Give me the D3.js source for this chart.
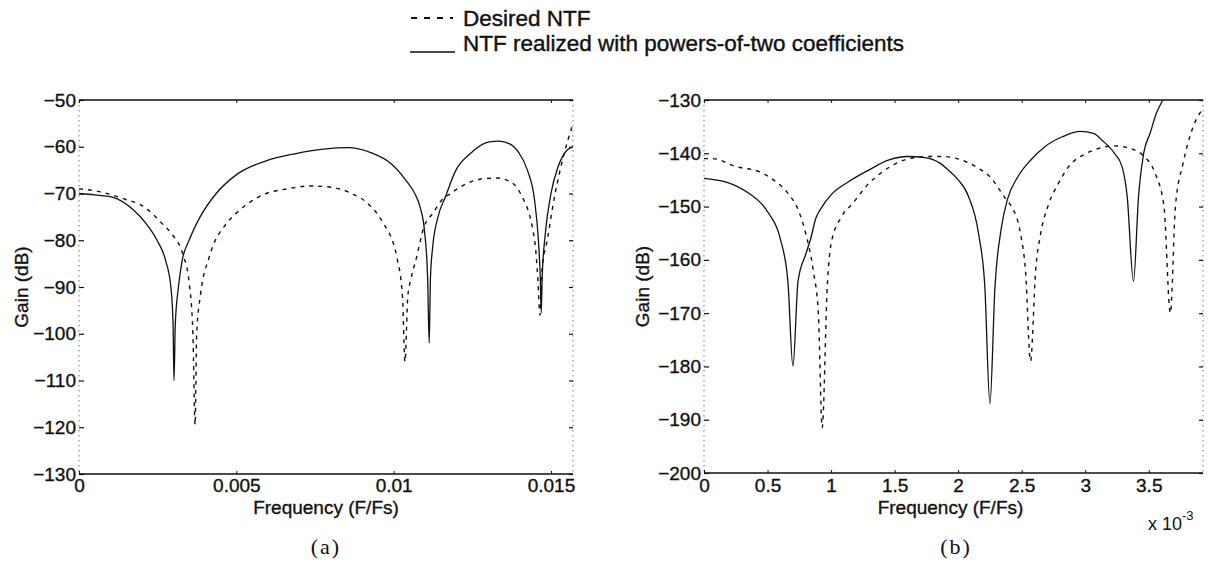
<!DOCTYPE html>
<html><head><meta charset="utf-8">
<script src="https://cdn.jsdelivr.net/npm/d3@7"></script>
<style>body{margin:0;background:#fff}svg{display:block}</style>
</head><body>
<svg id="c" width="1208" height="583"></svg>
<script>
// ---------- data ----------
const legendLabels = ["Desired NTF", "NTF realized with powers-of-two coefficients"];
const panelLabels = ["(a)", "(b)"];
const xLabel = "Frequency (F/Fs)";
const yLabel = "Gain (dB)";

const aXTicks = [0, 0.005, 0.01, 0.015];
const aYTicks = [-130, -120, -110, -100, -90, -80, -70, -60, -50];
const aXMax = 0.0157;
const bXTicks = [0, 0.0005, 0.001, 0.0015, 0.002, 0.0025, 0.003, 0.0035];
const bYTicks = [-200, -190, -180, -170, -160, -150, -140, -130];
const bXMax = 0.003927;

// panel (a) realized (solid)
const aSolidF = [0,0.0005,0.00106,0.00174,0.00214,0.00248,0.00276,0.00292,0.00299,0.00302,0.00306,0.00316,0.00328,0.0035,0.00385,0.00436,0.00504,0.00595,0.00686,0.00777,0.00857,0.00925,0.00993,0.01039,0.01067,0.01084,0.01098,0.01108,0.01113,0.01117,0.01124,0.01141,0.01164,0.01198,0.01243,0.013,0.01334,0.01369,0.01397,0.01425,0.01448,0.0146,0.01466,0.01469,0.01472,0.01482,0.015,0.01522,0.0155,0.0157];
const aSolidG = [-70,-70.3,-70.8,-73.6,-76.5,-80,-84.5,-90,-98,-110,-98,-90,-84.3,-80,-75,-70,-65.8,-63,-61.5,-60.5,-60.2,-61.2,-63.7,-67.2,-70,-72.9,-78,-88,-102,-88,-81.5,-75,-70.8,-65,-61.5,-59,-58.8,-59.4,-61.2,-65,-71.5,-80,-88,-95.5,-88,-78.6,-70,-64.4,-60.8,-60];
// panel (a) desired (dashed)
const aDesF = [0,0.00072,0.0014,0.00208,0.00265,0.00294,0.0033,0.0035,0.00362,0.00369,0.00374,0.00386,0.00413,0.0047,0.005,0.0053,0.00595,0.00663,0.00731,0.00777,0.00857,0.00925,0.00965,0.0101,0.01028,0.01036,0.01045,0.01056,0.01073,0.01096,0.01124,0.01152,0.01181,0.0122,0.01278,0.01329,0.01374,0.01403,0.01448,0.01458,0.01465,0.01472,0.01488,0.01511,0.01539,0.0157];
const aDesG = [-69,-69.7,-71.1,-72.9,-76.5,-78.6,-83,-89,-100,-119.5,-100,-91.7,-83.8,-76.3,-74.2,-72.5,-70,-69,-68.4,-68.5,-69.7,-72.6,-76.1,-83.6,-92,-106,-92,-88,-83.6,-77.2,-74.3,-71.5,-70,-68.3,-66.9,-66.7,-67.6,-70,-80,-88,-96,-86,-80,-70.8,-62.2,-55.1];

// panel (b) realized (solid)
const bSolidF = [0,0.0002,0.00037,0.00045,0.00051,0.0006,0.00066,0.0007,0.00074,0.0008,0.00084,0.00088,0.00093,0.001,0.00114,0.0013,0.00145,0.0016,0.00174,0.00186,0.00192,0.00199,0.00208,0.00216,0.00221,0.00225,0.00229,0.00234,0.00239,0.00247,0.00257,0.00268,0.00282,0.00296,0.00307,0.00313,0.00323,0.00329,0.00333,0.00338,0.00342,0.00346,0.00351,0.00356,0.00361,0.00366];
const bSolidG = [-144.7,-145.6,-147.8,-149.4,-151.3,-156,-164,-180,-164,-159,-156,-152.2,-150,-147.8,-145.3,-143.1,-141.3,-140.6,-140.8,-141.9,-143.1,-144.7,-148,-155,-165,-187,-165,-154,-148.5,-144.4,-141.3,-138.8,-136.9,-135.9,-136.3,-137.5,-140,-142.5,-148,-164,-148,-140,-136.3,-132.5,-130,-127.5];
// panel (b) desired (dashed)
const bDesF = [0,0.00007,0.00025,0.00044,0.00053,0.00067,0.00073,0.0008,0.00086,0.0009,0.00093,0.00097,0.001,0.00108,0.00117,0.0013,0.00141,0.00158,0.00177,0.00188,0.00199,0.00216,0.00225,0.00238,0.00242,0.00249,0.00253,0.00257,0.00261,0.00265,0.00271,0.00279,0.00287,0.00301,0.00312,0.00323,0.00334,0.00345,0.00355,0.00362,0.00367,0.00371,0.00377,0.00385,0.00393];
const bDesG = [-141,-141,-142.5,-143.5,-144.7,-147.8,-150,-155,-162,-170,-191.5,-165,-157,-152,-149.4,-145.6,-143.4,-141.25,-140.6,-140.6,-141,-142.8,-144.4,-148.75,-150,-155,-162,-179,-162,-155,-149.7,-145.6,-142.5,-140,-139,-138.6,-139,-140.3,-143.75,-150,-170,-150,-141.9,-135,-131.5];

// ---------- drawing ----------
const svg = d3.select("#c");
const SANS = "'Liberation Sans', Arial, Helvetica, sans-serif";
const ink = "#111";

function zip(f, g) { return f.map((v, i) => ({ f: v, g: g[i] })); }
function boldish(sel, w) { return sel.attr("stroke", ink).attr("stroke-width", w).attr("paint-order", "stroke"); }

function panel(opt) {
  const x = d3.scaleLinear().domain([0, opt.xMax]).range([opt.x0, opt.x1]);
  const y = d3.scaleLinear().domain([opt.yTicks[0], opt.yTicks[opt.yTicks.length - 1]]).range([opt.y1, opt.y0]);
  const g = svg.append("g");
  const id = "clip" + opt.name;
  svg.append("defs").append("clipPath").attr("id", id)
    .append("rect").attr("x", opt.x0).attr("y", opt.y0).attr("width", opt.x1 - opt.x0).attr("height", opt.y1 - opt.y0);

  // frame: top & bottom solid, sides faint dotted
  g.append("line").attr("x1", opt.x0).attr("x2", opt.x1).attr("y1", opt.y0).attr("y2", opt.y0)
    .attr("stroke", ink).attr("stroke-width", 1.6);
  g.append("line").attr("x1", opt.x0).attr("x2", opt.x1).attr("y1", opt.y1).attr("y2", opt.y1)
    .attr("stroke", ink).attr("stroke-width", 1.6);
  [opt.x0, opt.x1].forEach(xx => g.append("line").attr("x1", xx).attr("x2", xx).attr("y1", opt.y0).attr("y2", opt.y1)
    .attr("stroke", "#777").attr("stroke-width", 1).attr("stroke-dasharray", "1.5,3.5"));

  // y axis (left) with inward ticks
  const yAx = d3.axisLeft(y).tickValues(opt.yTicks).tickSize(-5).tickPadding(8)
    .tickFormat(d => String(d).replace("-", "\u2212"));
  const ya = g.append("g").attr("transform", `translate(${opt.x0},0)`).call(yAx);
  ya.select(".domain").remove();
  ya.selectAll("line").attr("stroke", ink).attr("stroke-width", 1.2);
  boldish(ya.selectAll("text").attr("font-family", SANS).attr("font-size", 19).attr("fill", ink).attr("x", -3), 0.35);
  // right-side inward ticks
  const yr = g.append("g").attr("transform", `translate(${opt.x1},0)`)
    .call(d3.axisRight(y).tickValues(opt.yTicks).tickSize(-4).tickFormat(""));
  yr.select(".domain").remove();
  yr.selectAll("line").attr("stroke", ink).attr("stroke-width", 1.2);

  // x axis bottom
  const xAx = d3.axisBottom(x).tickValues(opt.xTicks).tickSize(-3).tickPadding(6).tickFormat(opt.xFmt);
  const xa = g.append("g").attr("transform", `translate(0,${opt.y1})`).call(xAx);
  xa.select(".domain").remove();
  xa.selectAll("line").attr("stroke", ink);
  boldish(xa.selectAll("text").attr("font-family", SANS).attr("font-size", 19).attr("fill", ink).attr("dy", 0).attr("y", 492 - opt.y1), 0.35);
  const xt = g.append("g").attr("transform", `translate(0,${opt.y0})`)
    .call(d3.axisTop(x).tickValues(opt.xTicks).tickSize(-3).tickFormat(""));
  xt.select(".domain").remove();
  xt.selectAll("line").attr("stroke", ink);

  // curves
  const line = d3.line().x(d => x(d.f)).y(d => y(d.g)).curve(d3.curveMonotoneX);
  const cg = g.append("g").attr("clip-path", `url(#${id})`);
  cg.append("path").datum(zip(opt.desF, opt.desG)).attr("d", line)
    .attr("fill", "none").attr("stroke", ink).attr("stroke-width", 1.4).attr("stroke-dasharray", "4,5");
  cg.append("path").datum(zip(opt.solF, opt.solG)).attr("d", line)
    .attr("fill", "none").attr("stroke", ink).attr("stroke-width", 1.3);

  // labels
  boldish(g.append("text").attr("x", (opt.x0 + opt.x1) / 2 + opt.xLabelShift).attr("y", 514)
    .attr("text-anchor", "middle").attr("font-family", SANS).attr("font-size", 19).attr("fill", ink).text(xLabel), 0.35);
  boldish(g.append("text").attr("transform", `translate(${opt.yLabelX},${(opt.y0 + opt.y1) / 2}) rotate(-90)`)
    .attr("text-anchor", "middle").attr("font-family", SANS).attr("font-size", 19).attr("fill", ink).text(yLabel), 0.35);
  g.append("text").attr("x", opt.panelLabelX).attr("y", 554).attr("text-anchor", "middle")
    .attr("font-family", "'Liberation Serif', 'Times New Roman', serif").attr("font-size", 22)
    .attr("letter-spacing", 2).attr("fill", ink).text(opt.label);
  return { x, y };
}

panel({
  name: "a", x0: 79, x1: 573, y0: 100, y1: 474, xMax: aXMax,
  xTicks: aXTicks, yTicks: aYTicks, xFmt: d => d === 0 ? "0" : String(d),
  solF: aSolidF, solG: aSolidG, desF: aDesF, desG: aDesG,
  xLabelShift: 0, yLabelX: 28, panelLabelX: 326, label: panelLabels[0]
});
panel({
  name: "b", x0: 704, x1: 1203, y0: 100, y1: 473, xMax: bXMax,
  xTicks: bXTicks, yTicks: bYTicks, xFmt: d => String(+(d * 1000).toFixed(1)),
  solF: bSolidF, solG: bSolidG, desF: bDesF, desG: bDesG,
  xLabelShift: -3, yLabelX: 649, panelLabelX: 956, label: panelLabels[1]
});

// x10^-3 multiplier
const mult = svg.append("text").attr("x", 1148).attr("y", 530).attr("font-family", SANS).attr("font-size", 18).attr("fill", ink);
mult.append("tspan").text("x 10");
mult.append("tspan").attr("dy", -10).attr("font-size", 13).text("-3");

// legend
const lg = svg.append("g");
lg.append("line").attr("x1", 411).attr("x2", 453).attr("y1", 18).attr("y2", 18)
  .attr("stroke", ink).attr("stroke-width", 1.8).attr("stroke-dasharray", "6,7");
boldish(lg.append("text").attr("x", 463).attr("y", 26).attr("font-family", SANS).attr("font-size", 22.5).attr("fill", ink).text(legendLabels[0]), 0.4);
lg.append("line").attr("x1", 410).attr("x2", 455).attr("y1", 52).attr("y2", 52)
  .attr("stroke", ink).attr("stroke-width", 1.6);
boldish(lg.append("text").attr("x", 463).attr("y", 51).attr("font-family", SANS).attr("font-size", 22.5).attr("fill", ink).text(legendLabels[1]), 0.4);
</script>
</body></html>
